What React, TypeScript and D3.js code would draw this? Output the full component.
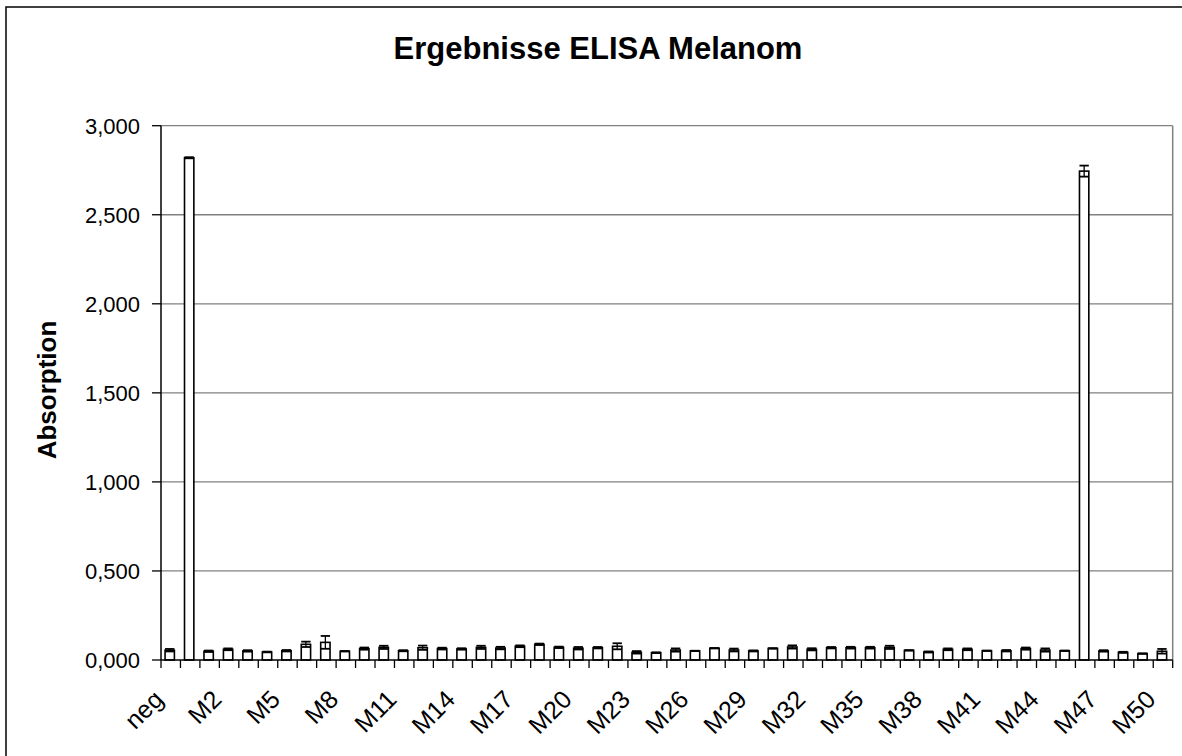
import React from "react";
import * as d3 from "d3";

const categories = [
  "neg", "pos", "M1", "M2", "M3", "M4", "M5", "M6", "M7", "M8", "M9", "M10",
  "M11", "M12", "M13", "M14", "M15", "M16", "M17", "M18", "M19", "M20", "M21",
  "M22", "M23", "M24", "M25", "M26", "M27", "M28", "M29", "M30", "M31", "M32",
  "M33", "M34", "M35", "M36", "M37", "M38", "M39", "M40", "M41", "M42", "M43",
  "M44", "M45", "M46", "M47", "M48", "M49", "M50",
];

const values = [
  0.055, 2.82, 0.049, 0.06, 0.051, 0.045, 0.052, 0.088, 0.099, 0.049, 0.064, 0.071,
  0.052, 0.069, 0.064, 0.062, 0.071, 0.067, 0.077, 0.088, 0.071, 0.066, 0.069,
  0.077, 0.043, 0.041, 0.056, 0.051, 0.066, 0.056, 0.051, 0.065, 0.073, 0.06,
  0.069, 0.069, 0.069, 0.071, 0.054, 0.045, 0.06, 0.06, 0.052, 0.052, 0.064,
  0.056, 0.052, 2.745, 0.051, 0.043, 0.036, 0.049,
];

const errors = [
  0.007, 0.003, 0.004, 0.005, 0.004, 0.002, 0.004, 0.015, 0.036, 0.001, 0.006, 0.009,
  0.003, 0.012, 0.005, 0.004, 0.009, 0.007, 0.005, 0.004, 0.004, 0.007, 0.004,
  0.017, 0.007, 0.002, 0.009, 0.001, 0.001, 0.008, 0.003, 0.001, 0.009, 0.006,
  0.004, 0.005, 0.005, 0.009, 0.001, 0.003, 0.005, 0.005, 0.001, 0.004, 0.006,
  0.009, 0.001, 0.031, 0.004, 0.003, 0.001, 0.013,
];

const yTicks = [0, 0.5, 1, 1.5, 2, 2.5, 3];
const labelEvery = 3;

const title = "Ergebnisse ELISA Melanom";
const yTitle = "Absorption";

const W = 1182;
const H = 756;
const plot = { left: 161, right: 1172.7, top: 125.7, bottom: 660 };
const FONT = "Arial, 'Liberation Sans', sans-serif";

const locale = d3.formatLocale({
  decimal: ",",
  thousands: ".",
  grouping: [3],
  currency: ["", ""],
});
const fmt = locale.format(".3f");

export default function App() {
  const x = d3
    .scaleBand<string>()
    .domain(categories)
    .range([plot.left, plot.right])
    .paddingInner(0)
    .paddingOuter(0);
  const y = d3.scaleLinear().domain([0, 3]).range([plot.bottom, plot.top]);
  const step = x.step();
  const barW = step * 0.48;
  const capW = step * 0.48;

  return (
    <svg
      width={W}
      height={H}
      style={{ position: "absolute", left: 0, top: 0, background: "#fff" }}
      fontFamily={FONT}
    >
      <rect x={0} y={0} width={W} height={H} fill="#fff" />
      <rect x={6} y={7} width={1190} height={780} fill="none" stroke="#000" strokeWidth={1.5} />
      <text x={598} y={59} textAnchor="middle" fontSize={31} fontWeight="bold">
        {title}
      </text>
      <text
        transform={`translate(56,390) rotate(-90)`}
        textAnchor="middle"
        fontSize={26}
        fontWeight="bold"
      >
        {yTitle}
      </text>

      {/* gridlines */}
      {yTicks.map((t) =>
        t === 0 ? null : (
          <line
            key={"g" + t}
            x1={plot.left}
            x2={plot.right}
            y1={y(t)}
            y2={y(t)}
            stroke="#808080"
            strokeWidth={1.3}
          />
        )
      )}
      <line x1={plot.right} x2={plot.right} y1={plot.top} y2={plot.bottom} stroke="#808080" strokeWidth={1.5} />

      {/* y ticks and labels */}
      {yTicks.map((t) => (
        <g key={"t" + t}>
          <line x1={plot.left - 9} x2={plot.left} y1={y(t)} y2={y(t)} stroke="#000" strokeWidth={1.3} />
          <text x={140} y={y(t)} dy="0.36em" textAnchor="end" fontSize={22}>
            {fmt(t)}
          </text>
        </g>
      ))}

      {/* bars */}
      {categories.map((c, i) => {
        const cx = (x(c) as number) + step / 2 - 1;
        const top = y(values[i]);
        return (
          <g key={c}>
            <rect
              x={cx - barW / 2}
              y={top}
              width={barW}
              height={plot.bottom - top}
              fill="#fff"
              stroke="#000"
              strokeWidth={1.6}
            />
            <line x1={cx} x2={cx} y1={y(values[i] + errors[i])} y2={y(values[i] - errors[i])} stroke="#000" strokeWidth={1.3} />
            <line x1={cx - capW / 2} x2={cx + capW / 2} y1={y(values[i] + errors[i])} y2={y(values[i] + errors[i])} stroke="#000" strokeWidth={1.8} />
            <line x1={cx - capW / 2} x2={cx + capW / 2} y1={y(values[i] - errors[i])} y2={y(values[i] - errors[i])} stroke="#000" strokeWidth={1.8} />
          </g>
        );
      })}

      {/* axes */}
      <line x1={plot.left} x2={plot.left} y1={plot.top} y2={plot.bottom} stroke="#000" strokeWidth={1.5} />
      <line x1={plot.left} x2={plot.right} y1={plot.bottom} y2={plot.bottom} stroke="#000" strokeWidth={1.5} />
      {categories.concat([""]).map((c, i) => {
        const xx = plot.left + i * step;
        return <line key={"xt" + i} x1={xx} x2={xx} y1={plot.bottom} y2={plot.bottom + 8} stroke="#000" strokeWidth={1.3} />;
      })}
      {categories.map((c, i) =>
        i % labelEvery === 0 ? (
          <text
            key={"xl" + c}
            transform={`translate(${(x(c) as number) + step / 2 - 6},701) rotate(-45)`}
            textAnchor="end"
            fontSize={25}
          >
            {c}
          </text>
        ) : null
      )}
    </svg>
  );
}
